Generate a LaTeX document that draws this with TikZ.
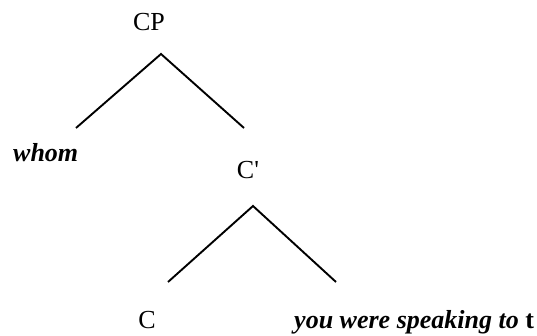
\documentclass[tikz,border=0pt]{standalone}
\usepackage{fontspec}
\setmainfont{Liberation Serif}

\begin{document}
\begin{tikzpicture}[x=1pt, y=-1pt,
   font=\fontsize{26}{30}\selectfont,
   cat/.style={inner sep=0pt, anchor=base},
   word/.style={cat, anchor=base west, font=\fontsize{26}{30}\selectfont\bfseries\itshape},
   branch/.style={line width=1.9pt}]
  \useasboundingbox (0,0) rectangle (537,336);

  % ===== CP : whom + C' =====
  \node[cat] (cp) at (149,31) {CP};
  \coordinate (cp-top) at (161,54);
  \coordinate (whom-end) at (76,128);
  \coordinate (cbar-end) at (244,128);
  \node[word] (whom) at (13,162) {whom};
  \node[cat] (cbar) at (248,179) {C\textquotesingle};
  \draw[branch] (whom-end) -- (cp-top) -- (cbar-end);

  % ===== C' : C + reste =====
  \coordinate (cbar-top) at (253,206);
  \coordinate (c-end) at (168,282);
  \coordinate (rest-end) at (336,282);
  \node[cat] (c) at (147,328) {C};
  \node[word] (rest) at (294,328) {you were speaking to \textup{t}};
  \draw[branch] (c-end) -- (cbar-top) -- (rest-end);

\end{tikzpicture}
\end{document}
